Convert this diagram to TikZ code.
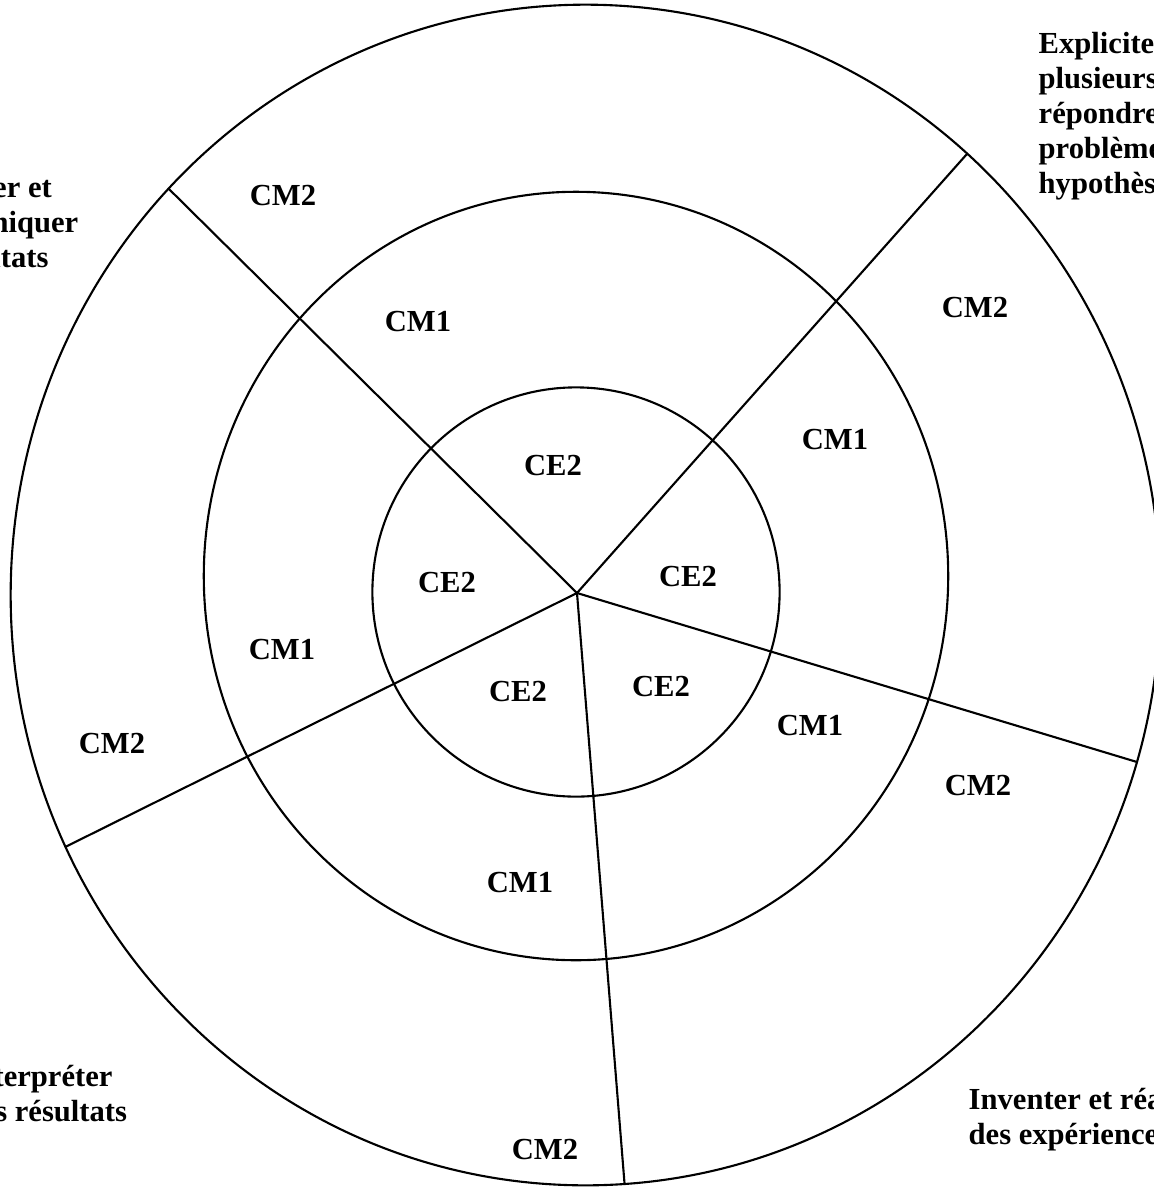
\documentclass[tikz,border=0pt]{standalone}
\usepackage{fontspec}
\setmainfont{Liberation Serif}
\usetikzlibrary{intersections}

\tikzset{
  ring/.style={draw, line width=0.6pt},
  spoke/.style={draw, line width=0.6pt},
  level/.style={font=\fontsize{8.7}{9.9}\selectfont\bfseries, inner sep=0pt},
  skill/.style={level, align=left, anchor=base west}
}

\begin{document}
\begin{tikzpicture}[x=0.01cm, y=-0.01cm]
    \useasboundingbox (0,0) rectangle (1154,1187);

    % centres
    \coordinate (hub) at (577,593);
    \coordinate (cIn) at (576,592);
    \coordinate (cMid) at (576,576);
    \coordinate (cOut) at (585.5,595);

    % rings
    \draw[ring] (cIn) ellipse [x radius=2.035cm, y radius=2.045cm];
    \draw[ring] (cMid) ellipse [x radius=3.72cm, y radius=3.84cm];
    \draw[ring, name path=outer] (cOut) ellipse [x radius=5.745cm, y radius=5.9cm];

    % spokes
    \foreach \a/\n in {135.3/A, 48.4/B, -16.8/C, -85.4/D, 206.4/E} {
      \path[name path=ray] (hub) -- ++(\a:9cm);
      \path[name intersections={of=outer and ray}] (intersection-1) coordinate (end\n);
    }
    \foreach \n in {A,B,C,D,E}
      \draw[spoke] (hub) -- (end\n);

    % CE2
    \node[level] (ceA) at (553,466) {CE2};
    \node[level] (ceB) at (688,577) {CE2};
    \node[level] (ceC) at (661,687) {CE2};
    \node[level] (ceD) at (518,692) {CE2};
    \node[level] (ceE) at (447,583) {CE2};

    % CM1
    \node[level] (cmiA) at (418,322) {CM1};
    \node[level] (cmiB) at (835,440) {CM1};
    \node[level] (cmiC) at (810,726) {CM1};
    \node[level] (cmiD) at (520,883) {CM1};
    \node[level] (cmiE) at (282,650) {CM1};

    % CM2
    \node[level] (cmiiA) at (283,196) {CM2};
    \node[level] (cmiiB) at (975,308) {CM2};
    \node[level] (cmiiC) at (978,786) {CM2};
    \node[level] (cmiiD) at (545,1150) {CM2};
    \node[level] (cmiiE) at (112,744) {CM2};

    % competences (anchored on the last line)
    \node[skill] (present) at (-106,267) {Présenter et\\communiquer\\les résultats};
    \node[skill] (explain) at (1038,193) {Expliciter\\plusieurs\\répondre\\problème\\hypothèses};
    \node[skill] (invent) at (968,1144) {Inventer et réaliser\\des expériences};
    \node[skill] (interpret) at (-36,1121) {Interpréter\\des résultats};
\end{tikzpicture}
\end{document}
